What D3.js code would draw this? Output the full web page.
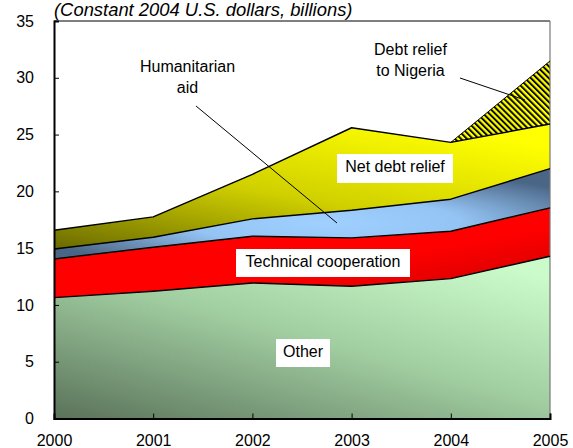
<!DOCTYPE html>
<html><head><meta charset="utf-8">
<script src="https://cdn.jsdelivr.net/npm/d3@7"></script>
<style>
body{margin:0;background:#fff;}
svg{display:block;font-family:Arial,"Liberation Sans",sans-serif;}
</style></head>
<body>
<script>
const years = [2000, 2001, 2002, 2003, 2004, 2005];
const other = [10.64, 11.2, 11.93, 11.65, 12.32, 14.29];
const technicalCooperation = [3.41, 3.88, 4.12, 4.25, 4.17, 4.26];
const humanitarianAid = [0.88, 0.88, 1.53, 2.44, 2.82, 3.45];
const netDebtRelief = [1.65, 1.79, 3.92, 7.26, 5.0, 3.93];
const nigeriaDebtRelief = [0, 0, 0, 0, 0, 5.55];
const yTicks = [0, 5, 10, 15, 20, 25, 30, 35];
const seriesKeys = ["other", "tc", "hum", "ndr", "nig"];
const seriesData = {other: other, tc: technicalCooperation, hum: humanitarianAid, ndr: netDebtRelief, nig: nigeriaDebtRelief};

const W = 573, H = 448;
const svg = d3.select("body").append("svg").attr("width", W).attr("height", H);
const x = d3.scaleLinear().domain([2000, 2005]).range([54, 550]);
const y = d3.scaleLinear().domain([0, 35]).range([418.5, 21]);

const rows = years.map((yr, i) => {
  const r = {year: yr};
  seriesKeys.forEach(k => r[k] = seriesData[k][i]);
  return r;
});
const stacked = d3.stack().keys(seriesKeys)(rows);

const defs = svg.append("defs");
function lin(id, x1, y1, x2, y2, stops) {
  const g = defs.append("linearGradient").attr("id", id)
    .attr("x1", x1).attr("y1", y1).attr("x2", x2).attr("y2", y2);
  stops.forEach(s => g.append("stop").attr("offset", s[0]).attr("stop-color", s[1]));
}
lin("gOther", 0, 1, 0.85, 0, [[0, "#5a725a"], [0.55, "#a2cfa2"], [1, "#cbfbcb"]]);
lin("gTc", 0, 0, 1, 1, [[0, "#ff0000"], [0.6, "#ff0000"], [1, "#c80000"]]);
const rg = defs.append("radialGradient").attr("id", "gHum").attr("cx", 0.55).attr("cy", 0.6).attr("r", 0.6);
[[0, "#9fd0ff"], [0.45, "#94c4f4"], [1, "#4a6585"]].forEach(s => rg.append("stop").attr("offset", s[0]).attr("stop-color", s[1]));
lin("gNdr", 0, 1, 0.75, 0, [[0, "#6a6a00"], [0.5, "#d0d000"], [1, "#ffff00"]]);
const pat = defs.append("pattern").attr("id", "hatch").attr("patternUnits", "userSpaceOnUse")
  .attr("width", 4.2).attr("height", 4.2).attr("patternTransform", "rotate(-45)");
pat.append("rect").attr("width", 4.2).attr("height", 4.2).attr("fill", "#ffff00");
pat.append("line").attr("x1", 1).attr("y1", 0).attr("x2", 1).attr("y2", 4.2).attr("stroke", "#000").attr("stroke-width", 1.9);

const fills = {other: "url(#gOther)", tc: "url(#gTc)", hum: "url(#gHum)", ndr: "url(#gNdr)", nig: "url(#hatch)"};

const area = d3.area().x(d => x(d.data.year)).y0(d => y(d[0])).y1(d => y(d[1]));
svg.append("g").selectAll("path").data(stacked).join("path")
  .attr("d", area).attr("fill", d => fills[d.key]);

// top border & right border
svg.append("line").attr("x1", x(2000)).attr("x2", x(2005)).attr("y1", y(35)).attr("y2", y(35)).attr("stroke", "#000").attr("stroke-width", 1.2);
svg.append("line").attr("x1", x(2005)).attr("x2", x(2005)).attr("y1", y(35)).attr("y2", y(0)).attr("stroke", "#777").attr("stroke-width", 1.2);

// boundary lines
const line = d3.line().x(d => x(d.data.year)).y(d => y(d[1]));
svg.append("g").selectAll("path").data(stacked.slice(0, 4)).join("path")
  .attr("d", line).attr("fill", "none").attr("stroke", "#000").attr("stroke-width", 1.4).attr("stroke-linejoin", "round");
const nigLayer = stacked[4];
const nigPts = nigLayer.filter(d => d.data.year >= 2004);
svg.append("path").attr("d", line(nigPts)).attr("fill", "none").attr("stroke", "#000").attr("stroke-width", 1);

// axes
const yAxis = d3.axisLeft(y).tickValues(yTicks).tickSize(-5).tickPadding(20).tickFormat(d3.format("d"));
const gy = svg.append("g").attr("transform", `translate(${x(2000)},0)`).call(yAxis);
gy.select(".domain").attr("stroke-width", 2);
gy.selectAll("text").attr("font-size", 16).attr("fill", "#000").attr("font-family", "Arial, Liberation Sans, sans-serif");
const xAxis = d3.axisBottom(x).tickValues(years).tickSize(-5).tickPadding(16).tickFormat(d3.format("d"));
const gx = svg.append("g").attr("transform", `translate(0,${y(0)})`).call(xAxis);
gx.select(".domain").attr("stroke-width", 2);
gx.selectAll("text").attr("font-size", 16).attr("fill", "#000").attr("font-family", "Arial, Liberation Sans, sans-serif");

// title
svg.append("text").attr("x", 54).attr("y", 16).attr("font-size", 18.4).attr("font-style", "italic").text("(Constant 2004 U.S. dollars, billions)");

// labels with boxes
function boxLabel(cx, by, bx0, bx1, byTop, byBot, txt) {
  svg.append("rect").attr("x", bx0).attr("y", byTop).attr("width", bx1 - bx0).attr("height", byBot - byTop).attr("fill", "#fff");
  svg.append("text").attr("x", cx).attr("y", by).attr("text-anchor", "middle").attr("font-size", 16).text(txt);
}
boxLabel(395, 172, 337, 453, 154, 183, "Net debt relief");
boxLabel(323, 267, 236, 410, 249, 277, "Technical cooperation");
boxLabel(303, 357, 276, 330, 339, 367, "Other");

// plain labels
function multi(cx, ys, lines) {
  lines.forEach((t, i) => svg.append("text").attr("x", cx).attr("y", ys[i]).attr("text-anchor", "middle").attr("font-size", 16).text(t));
}
multi(187.5, [72, 93], ["Humanitarian", "aid"]);
multi(410.5, [55, 76], ["Debt relief", "to Nigeria"]);

// leader lines
svg.append("line").attr("x1", 196).attr("y1", 106).attr("x2", 337).attr("y2", 223).attr("stroke", "#000").attr("stroke-width", 1);
svg.append("line").attr("x1", 460).attr("y1", 78).attr("x2", 525).attr("y2", 100).attr("stroke", "#000").attr("stroke-width", 1);
</script>
</body></html>
